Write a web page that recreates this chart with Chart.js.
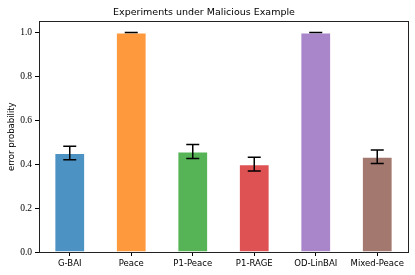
<!DOCTYPE html>
<html>
<head>
<meta charset="utf-8">
<script src="https://cdn.jsdelivr.net/npm/chart.js@4.4.0/dist/chart.umd.min.js"></script>
<style>
  html, body { margin: 0; padding: 0; background: #fff; }
  #wrap { width: 415px; height: 275px; }
</style>
</head>
<body>
<div id="wrap"><canvas id="bar-chart"></canvas></div>
<script>
var methods = ["G-BAI", "Peace", "P1-Peace", "P1-RAGE", "OD-LinBAI", "Mixed-Peace"];
var errorProb = [0.451, 1.0, 0.458, 0.400, 1.0, 0.434];
var errorStd = [0.031, 0.0, 0.032, 0.031, 0.0, 0.031];
var yTicks = [0.0, 0.2, 0.4, 0.6, 0.8, 1.0];
var barColors = [
  'rgba(31, 119, 180, 0.8)',
  'rgba(255, 127, 14, 0.8)',
  'rgba(44, 160, 44, 0.8)',
  'rgba(214, 39, 40, 0.8)',
  'rgba(148, 103, 189, 0.8)',
  'rgba(140, 86, 75, 0.8)'
];

// black error bars with caps, drawn from the scales
var errorBars = {
  id: 'errorBars',
  afterDatasetsDraw: function (chart) {
    var ctx = chart.ctx;
    var y = chart.scales.y;
    var meta = chart.getDatasetMeta(0);
    ctx.save();
    ctx.strokeStyle = '#000';
    ctx.lineWidth = 1.5;
    meta.data.forEach(function (bar, i) {
      var x = bar.x;
      var top = y.getPixelForValue(errorProb[i] + errorStd[i]);
      var bot = y.getPixelForValue(errorProb[i] - errorStd[i]);
      ctx.beginPath();
      ctx.moveTo(x, top); ctx.lineTo(x, bot);
      ctx.moveTo(x - 6.5, top); ctx.lineTo(x + 6.5, top);
      ctx.moveTo(x - 6.5, bot); ctx.lineTo(x + 6.5, bot);
      ctx.stroke();
    });
    ctx.restore();
  }
};

// full box round the plot
var frame = {
  id: 'frame',
  afterDraw: function (chart) {
    var a = chart.chartArea;
    var ctx = chart.ctx;
    ctx.save();
    ctx.strokeStyle = '#222';
    ctx.lineWidth = 1;
    ctx.strokeRect(Math.round(a.left) + 0.5, Math.round(a.top) + 0.5,
      Math.round(a.right - a.left), Math.round(a.bottom - a.top));
    ctx.restore();
  }
};

new Chart(document.getElementById("bar-chart"), {
  type: 'bar',
  data: {
    labels: methods,
    datasets: [
      {
        label: "error probability",
        data: errorProb,
        backgroundColor: barColors,
        borderColor: 'rgba(255,255,255,0.7)',
        borderWidth: 1,
        barPercentage: 0.5,
        categoryPercentage: 1.0
      }
    ]
  },
  options: {
    responsive: true,
    maintainAspectRatio: false,
    animation: false,
    layout: {
      padding: { left: 0, right: 7, top: 0, bottom: 0 }
    },
    plugins: {
      legend: { display: false },
      tooltip: { enabled: false },
      title: {
        display: true,
        text: 'Experiments under Malicious Example',
        color: '#000',
        font: { family: 'DejaVu Sans', size: 9.5, weight: 'normal' },
        padding: { top: 7, bottom: 3 }
      }
    },
    scales: {
      x: {
        offset: true,
        grid: {
          offset: false,
          drawOnChartArea: false,
          drawTicks: true,
          tickLength: 4,
          color: '#000'
        },
        border: { display: true, color: '#222' },
        ticks: {
          color: '#000',
          font: { family: 'DejaVu Sans', size: 8.5 },
          padding: 3,
          maxRotation: 0,
          autoSkip: false
        },
        afterFit: function (scale) { scale.height = 23; }
      },
      y: {
        min: 0,
        max: 1.05,
        afterBuildTicks: function (scale) {
          scale.ticks = yTicks.map(function (v) { return { value: v }; });
        },
        grid: {
          drawOnChartArea: false,
          drawTicks: true,
          tickLength: 4,
          color: '#000'
        },
        border: { display: true, color: '#222' },
        ticks: {
          color: '#000',
          font: { family: 'Liberation Serif', size: 9.5 },
          padding: 3,
          callback: function (v) { return Number(v).toFixed(1); }
        },
        title: {
          display: true,
          text: 'error probability',
          color: '#000',
          font: { family: 'DejaVu Sans', size: 8.5 },
          padding: { top: 7, bottom: 2 }
        },
        afterFit: function (scale) { scale.width = 39; }
      }
    }
  },
  plugins: [errorBars, frame]
});
</script>
</body>
</html>
